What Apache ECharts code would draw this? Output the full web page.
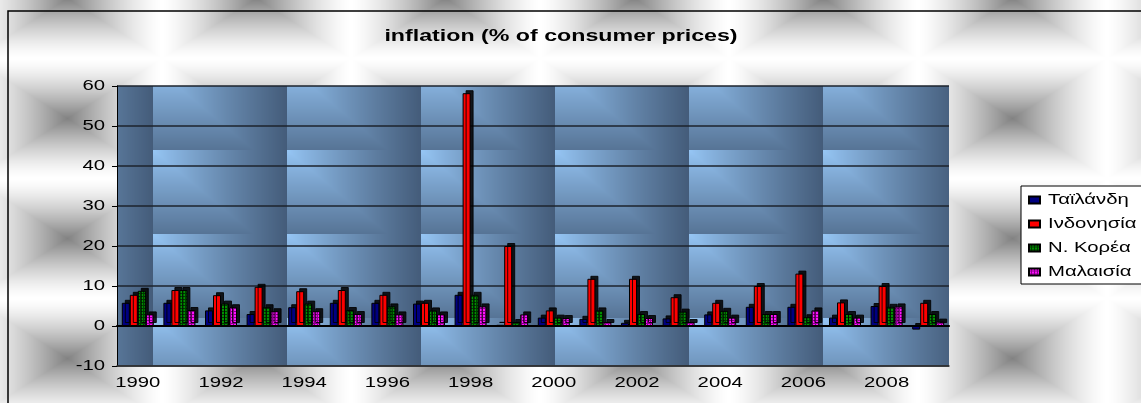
<!DOCTYPE html>
<html><head><meta charset="utf-8">
<script src="https://cdn.jsdelivr.net/npm/echarts@6/dist/echarts.min.js"></script>
<style>html,body{margin:0;padding:0;background:#fff;}#chart{width:1141px;height:403px;}</style>
</head><body><div id="chart"></div>
<script>
const years = ['1990','1991','1992','1993','1994','1995','1996','1997','1998','1999','2000','2001','2002','2003','2004','2005','2006','2007','2008','2009'];
const seriesNames = ['Ταϊλάνδη','Ινδονησία','Ν. Κορέα','Μαλαισία'];
const thailand  = [5.8, 5.8, 3.9, 3.0, 4.7, 5.8, 5.8, 5.6, 7.8, 0.3, 2.1, 1.8, 0.8, 1.9, 2.9, 4.8, 4.8, 2.1, 5.0, -0.9];
const indonesia = [7.8, 9.0, 7.7, 9.8, 8.7, 9.0, 7.8, 5.8, 58.2, 20.0, 3.9, 11.8, 11.8, 7.2, 5.8, 10.0, 13.1, 5.9, 10.0, 5.8];
const korea     = [8.8, 9.0, 5.6, 4.7, 5.6, 4.0, 4.9, 3.9, 7.8, 1.0, 2.1, 3.9, 3.0, 3.6, 3.8, 3.0, 2.2, 3.0, 4.8, 3.0];
const malaysia  = [2.9, 4.0, 4.7, 3.7, 3.7, 3.0, 2.9, 2.9, 4.9, 2.9, 2.0, 1.0, 2.0, 1.0, 2.1, 3.0, 3.9, 2.1, 4.9, 1.1];
const yTicks = {min: -10, max: 60, interval: 10};

// the reference image is horizontally stretched: stretch glyphs around their anchor point
(function () {
  const proto = CanvasRenderingContext2D.prototype;
  const orig = proto.fillText;
  const sx = 1.45;
  proto.fillText = function (t, x, y, m) {
    this.save();
    this.translate(x, 0);
    this.scale(sx, 1);
    const r = (m === undefined) ? orig.call(this, t, 0, y) : orig.call(this, t, 0, y, m / sx);
    this.restore();
    return r;
  };
})();

function mod(a, n) { return ((a % n) + n) % n; }
function makeCanvas(w, h, fn) {
  const c = document.createElement('canvas'); c.width = w; c.height = h;
  const ctx = c.getContext('2d'); const img = ctx.createImageData(w, h);
  for (let j = 0; j < h; j++) for (let i = 0; i < w; i++) {
    const col = fn(i, j); const k = (j * w + i) * 4;
    img.data[k] = col[0]; img.data[k+1] = col[1]; img.data[k+2] = col[2]; img.data[k+3] = 255;
  }
  ctx.putImageData(img, 0, 0); return c;
}
// page background: rectangular "pillow" tiles
const bg = makeCanvas(189, 120, (i, j) => {
  let dx = mod(i - 67, 189); if (dx > 94.5) dx -= 189;
  let dy = mod(j - 118, 120); if (dy > 60) dy -= 120;
  const t = Math.min(1, Math.max(Math.abs(dx) / 94.5, Math.abs(dy) / 60));
  const c = Math.round(255 - 125 * Math.pow(1 - t, 1.4));
  return [c, c, c];
});
document.getElementById('chart').style.background = 'url(' + bg.toDataURL() + ')';

// plot wall texture
const light = [150, 198, 245], dark = [68, 92, 122];
const wall = makeCanvas(134, 84, (i, j) => {
  const lx = mod(i - 19, 134), ly = mod(j - 66, 84);
  const t = Math.pow(Math.min(1, Math.max(lx / 133, 0.75 * ly / 83)), 0.9);
  return [0,1,2].map(k => Math.round(light[k] + (dark[k] - light[k]) * t));
});

function gridPattern(base, line) {
  const c = document.createElement('canvas'); c.width = 3; c.height = 3;
  const ctx = c.getContext('2d');
  ctx.fillStyle = base; ctx.fillRect(0, 0, 3, 3);
  ctx.fillStyle = line; ctx.fillRect(2, 0, 1, 3); ctx.fillRect(0, 2, 3, 1);
  return {image: c, repeat: 'repeat'};
}
const colors = ['#000080', '#ff0000', gridPattern('#009000', '#003a00'), gridPattern('#ff10ff', '#8a008a')];
const values = [thailand, indonesia, korea, malaysia];

const font = "'Liberation Sans', Arial, sans-serif";
const chart = echarts.init(document.getElementById('chart'));
chart.setOption({
  animation: false,
  backgroundColor: 'transparent',
  title: {
    text: 'inflation (% of consumer prices)',
    left: 561, top: 29, textAlign: 'center', padding: 0,
    textStyle: {fontFamily: font, fontSize: 16, fontWeight: 'bold', color: '#000'}
  },
  legend: {
    orient: 'vertical', left: 1021, top: 186, icon: 'rect',
    padding: [7, 60, 5, 7], itemGap: 10, itemWidth: 11, itemHeight: 7,
    backgroundColor: '#fff', borderColor: '#000', borderWidth: 1, borderRadius: 0,
    textStyle: {fontFamily: font, fontSize: 14, color: '#000', lineHeight: 14, padding: [0, 0, 0, 3]},
    data: seriesNames
  },
  grid: {
    left: 117, right: 192, top: 86, bottom: 37,
    show: true, borderWidth: 0,
    backgroundColor: {image: wall, repeat: 'repeat'}
  },
  graphic: [{
    type: 'rect', shape: {x: 8, y: 11, width: 1140, height: 400},
    style: {fill: 'none', stroke: '#000', lineWidth: 1.5}, silent: true, z: 100
  }],
  xAxis: [{
    type: 'category', data: years, position: 'bottom',
    axisLine: {onZero: false, lineStyle: {color: '#333', width: 1.5}},
    axisTick: {interval: 0, length: 4, lineStyle: {color: '#000'}},
    axisLabel: {interval: 1, fontFamily: font, fontSize: 14, color: '#000', margin: 10}
  }, {
    type: 'category', data: years, position: 'top',
    axisLine: {onZero: true, lineStyle: {color: '#000', width: 2}},
    axisTick: {interval: 0, inside: true, length: 4, lineStyle: {color: '#000'}},
    axisLabel: {show: false}
  }],
  yAxis: {
    type: 'value', min: yTicks.min, max: yTicks.max, interval: yTicks.interval,
    axisLine: {show: true, lineStyle: {color: '#000', width: 1}},
    axisTick: {show: true, length: 5, lineStyle: {color: '#000'}},
    axisLabel: {fontFamily: font, fontSize: 14, color: '#000', margin: 12},
    splitLine: {show: true, lineStyle: {color: '#1c232d', width: 1.5}}
  },
  series: seriesNames.map((name, k) => ({
    name: name, type: 'bar', xAxisIndex: 0, data: values[k],
    barWidth: 8, barGap: '0%',
    itemStyle: {
      color: colors[k], borderColor: '#000', borderWidth: 1,
      shadowColor: 'rgba(0,0,0,0.85)', shadowOffsetX: 3, shadowOffsetY: -3, shadowBlur: 0
    }
  }))
});
</script></body></html>
